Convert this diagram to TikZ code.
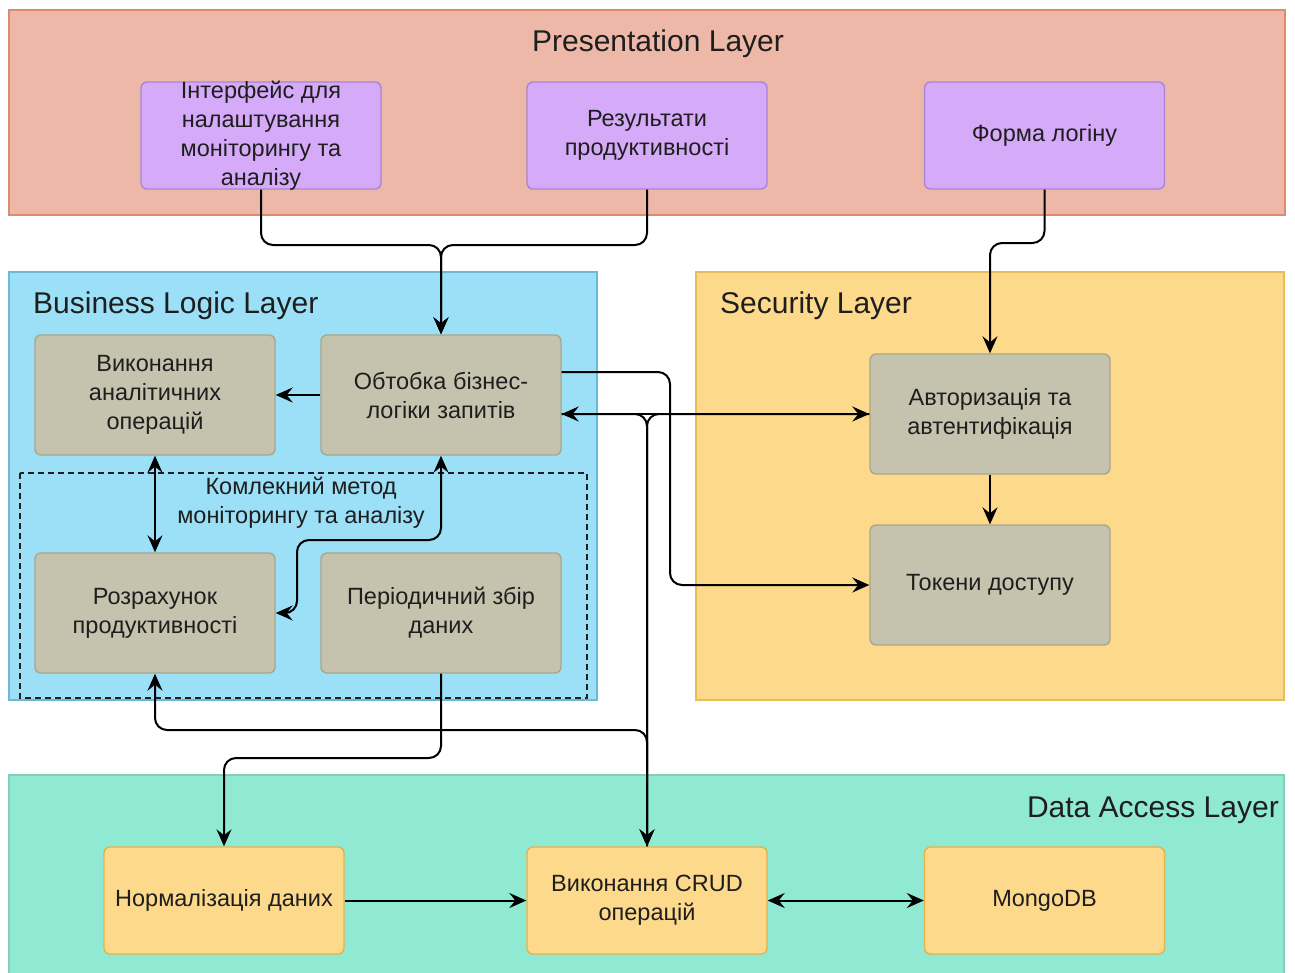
\documentclass[tikz,border=0pt]{standalone}
\usepackage{fontspec}
\setmainfont{Liberation Sans}
\usetikzlibrary{arrows.meta,calc}

\definecolor{presFill}{HTML}{EDB8A7}
\definecolor{presLine}{HTML}{DE8A72}
\definecolor{busFill}{HTML}{9BE0F7}
\definecolor{busLine}{HTML}{6CB8D6}
\definecolor{secFill}{HTML}{FDD98B}
\definecolor{secLine}{HTML}{E8BC58}
\definecolor{dataFill}{HTML}{90EAD3}
\definecolor{dataLine}{HTML}{86CDB9}
\definecolor{uiFill}{HTML}{D5AAF8}
\definecolor{uiLine}{HTML}{A885D8}
\definecolor{logicFill}{HTML}{C5C3AE}
\definecolor{logicLine}{HTML}{A9A68C}
\definecolor{storeFill}{HTML}{FDD98B}
\definecolor{storeLine}{HTML}{E3B34A}
\definecolor{ink}{HTML}{1E1E1E}

% arrowhead used on every connector
\tikzset{ctip/.tip={Stealth[length=17pt 0 0,width=15pt 0 0,inset=6pt 0]}}

\begin{document}
\begin{tikzpicture}[x=1pt,y=-1pt,
  layer/.style={line width=1.6pt},
  layertitle/.style={inner sep=0pt, text=ink, font=\fontsize{30}{35}\selectfont},
  boxtext/.style={align=center, text=ink, inner sep=0pt, font=\fontsize{23.5}{29}\selectfont},
  box/.style={boxtext, rounded corners=6pt, line width=1.4pt, minimum width=240pt, inner sep=2pt},
  uibox/.style={box, fill=uiFill, draw=uiLine, minimum height=107pt},
  logicbox/.style={box, fill=logicFill, draw=logicLine, minimum height=120pt},
  storebox/.style={box, fill=storeFill, draw=storeLine, minimum height=107pt},
  conn/.style={draw=black, line width=2pt, rounded corners=12pt},
  group/.style={draw=ink, line width=1.8pt, dash pattern=on 6pt off 4pt}
]
\useasboundingbox (0,0) rectangle (1295,972);

% layer backgrounds
\draw[layer, fill=presFill, draw=presLine] (9,10) rectangle (1285,215);
\draw[layer, fill=busFill, draw=busLine] (9,272) rectangle (597,700);
\draw[layer, fill=secFill, draw=secLine] (696,272) rectangle (1284,700);
\draw[layer, fill=dataFill, draw=dataLine] (9,775) rectangle (1284,990);

% layer titles
\node[layertitle, anchor=base] (tPres) at (658,51) {Presentation Layer};
\node[layertitle, anchor=base west] (tBus) at (33,313) {Business Logic Layer};
\node[layertitle, anchor=base west] (tSec) at (720,313) {Security Layer};
\node[layertitle, anchor=base east] (tData) at (1279,817) {Data Access Layer};

% grouping of the monitoring method
\draw[group] (20,473) rectangle (587,698);
\node[boxtext] (methodLabel) at (301,503) {Комлекний метод\\моніторингу та аналізу};

% presentation components (the first label runs past its box)
\node[uibox] (iface) at (261,135.5) {};
\node[boxtext] (ifaceText) at (iface.center) {Інтерфейс для\\налаштування\\моніторингу та\\аналізу};
\node[uibox] (res) at (647,135.5) {Результати\\продуктивності};
\node[uibox] (login) at (1044.5,135.5) {Форма логіну};

% business logic components
\node[logicbox] (exec) at (155,395) {Виконання\\аналітичних\\операцій};
\node[logicbox] (proc) at (441,395) {Обтобка бізнес-\\логіки запитів};
\node[logicbox] (calc) at (155,613) {Розрахунок\\продуктивності};
\node[logicbox] (collect) at (441,613) {Періодичний збір\\даних};

% security components
\node[logicbox] (auth) at (990,414) {Авторизація та\\автентифікація};
\node[logicbox] (tok) at (990,585) {Токени доступу};

% data access components
\node[storebox] (norm) at (224,900.5) {Нормалізація даних};
\node[storebox] (crud) at (647,900.5) {Виконання CRUD\\операцій};
\node[storebox] (mongo) at (1044.5,900.5) {MongoDB};

% routing points
\coordinate (jTop) at (441,245);
\coordinate (jLogin) at (990,243);
\coordinate (jCalc) at (297,540);
\coordinate (jCalcIn) at (297,613);
\coordinate (jNorm) at (441,758);
\coordinate (jBus) at (647,414);
\coordinate (jBack) at (647,730);
\coordinate (jTok) at (670,585);

% connectors
\draw[conn,-ctip] (iface.south) |- (jTop) -- (proc.north);
\draw[conn,-ctip] (res.south) |- (jTop) -- (proc.north);
\draw[conn,-ctip] (login.south) |- (jLogin) -- (auth.north);
\draw[conn,-ctip] (proc.west) -- (exec.east);
\draw[conn,ctip-ctip] (exec.south) -- (calc.north);
\draw[conn,ctip-ctip] (proc.south) |- (jCalc) -- (jCalcIn) -- (calc.east);
\draw[conn,-ctip] (collect.south) -- (jNorm) -| (norm.north);
\draw[conn,ctip-ctip] (proc.east |- auth.west) -- (auth.west);
\draw[conn,-ctip] (proc.east |- auth.west) -- (jBus) -- (crud.north);
\draw[conn,-ctip] (auth.west) -- (jBus) -- (crud.north);
\draw[conn,ctip-] (calc.south) |- (jBack) -- (crud.north);
\draw[conn,-ctip] ($(proc.east)+(0,-23)$) -| (jTok) -- (tok.west);
\draw[conn,-ctip] (auth.south) -- (tok.north);
\draw[conn,-ctip] (norm.east) -- (crud.west);
\draw[conn,ctip-ctip] (crud.east) -- (mongo.west);
\end{tikzpicture}
\end{document}
